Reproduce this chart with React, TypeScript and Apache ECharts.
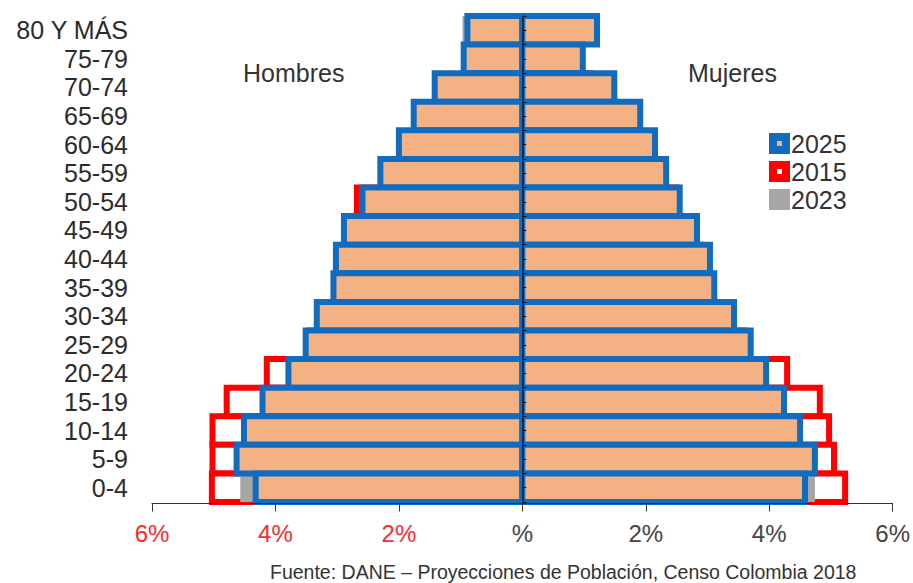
import React, { useEffect, useRef } from "react";
import * as echarts from "echarts";

const categories = ["80 Y MÁS", "75-79", "70-74", "65-69", "60-64", "55-59", "50-54", "45-49", "40-44", "35-39", "30-34", "25-29", "20-24", "15-19", "10-14", "5-9", "0-4"];

const men2025 = [0.89, 0.95, 1.42, 1.76, 2.0, 2.3, 2.59, 2.89, 3.02, 3.06, 3.33, 3.51, 3.79, 4.21, 4.51, 4.63, 4.32];
const women2025 = [1.21, 0.98, 1.49, 1.91, 2.15, 2.33, 2.55, 2.83, 3.04, 3.11, 3.43, 3.7, 3.95, 4.24, 4.5, 4.74, 4.58];

const men2015 = [0.6, 0.6, 0.9, 1.2, 1.6, 2.0, 2.68, 2.8, 2.8, 3.0, 3.25, 3.45, 4.14, 4.79, 5.02, 5.02, 5.03];
const women2015 = [0.8, 0.8, 1.1, 1.5, 1.9, 2.2, 2.5, 2.7, 2.9, 3.05, 3.35, 3.6, 4.29, 4.82, 4.97, 5.05, 5.23];

const men2023 = [0.97, 0.85, 1.3, 1.65, 1.95, 2.25, 2.55, 2.8, 3.0, 3.05, 3.3, 3.5, 3.75, 4.15, 4.45, 4.6, 4.57];
const women2023 = [1.15, 0.95, 1.4, 1.8, 2.05, 2.3, 2.5, 2.8, 3.0, 3.1, 3.4, 3.65, 3.9, 4.2, 4.45, 4.7, 4.74];

const FONT = "Liberation Sans, Arial, sans-serif";
const BLUE = "#116cc0";
const PEACH = "#f4b183";
const RED = "#ff0000";
const GRAY = "#a6a6a6";

export default function App() {
  const ref = useRef<HTMLDivElement>(null);

  useEffect(() => {
    if (!ref.current) return;
    const chart = echarts.init(ref.current, null, { renderer: "svg" });

    const pyramid = (name: string, men: number[], women: number[], fill: string, stroke: string | null, lw: number) => ({
      type: "custom",
      name,
      xAxisIndex: 0,
      yAxisIndex: 0,
      silent: true,
      itemStyle: { color: stroke || fill },
      encode: { x: 0, y: 1 },
      data: [...men.map((v, i) => [-v, i]), ...women.map((v, i) => [v, i])],
      renderItem: (params: any, api: any) => {
        const v = api.value(0);
        const c = api.value(1);
        const p0 = api.coord([0, c]);
        const p1 = api.coord([v, c]);
        const h = api.size([0, 1])[1];
        return {
          type: "rect",
          shape: {
            x: Math.min(p0[0], p1[0]),
            y: p0[1] - h / 2,
            width: Math.abs(p1[0] - p0[0]),
            height: h,
          },
          style: stroke
            ? { fill, stroke, lineWidth: lw }
            : { fill, stroke: "none", lineWidth: 0 },
        };
      },
    });

    chart.setOption({
      animation: false,
      textStyle: { fontFamily: FONT },
      grid: { left: 152, right: 20, top: 16, bottom: 583 - 502 },
      legend: {
        orient: "vertical",
        left: 769,
        top: 131,
        padding: 0,
        itemGap: 3,
        icon: "rect",
        itemWidth: 13,
        itemHeight: 13,
        selectedMode: false,
        textStyle: { fontSize: 25, color: "#333", fontFamily: FONT },
        data: [
          { name: "2025", icon: "rect", itemStyle: { color: PEACH, borderColor: BLUE, borderWidth: 8 } },
          { name: "2015", icon: "rect", itemStyle: { color: "#ffffff", borderColor: RED, borderWidth: 8 } },
          { name: "2023", icon: "rect", itemStyle: { color: GRAY, borderColor: GRAY, borderWidth: 8 } },
        ],
      },
      xAxis: [
        {
          type: "value",
          min: -6,
          max: 6,
          interval: 2,
          offset: 1.5,
          z: 10,
          axisLine: { show: true, onZero: false, lineStyle: { color: "#333", width: 1 } },
          axisTick: { show: true, length: 8, lineStyle: { color: "#333" } },
          splitLine: { show: false },
          axisLabel: {
            fontSize: 24,
            margin: 18,
            fontFamily: FONT,
            formatter: (v: number) => (v === 0 ? "%" : Math.abs(v) + "%"),
            color: (v: any) => (Number(v) < 0 ? "#ff2a2a" : "#444444"),
          },
        },
      ],
      yAxis: [
        {
          type: "category",
          data: categories,
          inverse: true,
          position: "left",
          axisLine: { show: false, onZero: false },
          axisTick: { show: false },
          axisLabel: { interval: 0, fontSize: 25, color: "#2b2b2b", margin: 24, fontFamily: FONT },
        },
        {
          type: "category",
          data: categories,
          inverse: true,
          position: "left",
          z: 10,
          axisLine: { show: true, onZero: true, onZeroAxisIndex: 0, lineStyle: { color: "#0b1f3a", width: 1.5 } },
          axisTick: { show: true, interval: 0, inside: true, length: 4, lineStyle: { color: "#111" } },
          axisLabel: { show: false },
        },
        {
          type: "category",
          data: categories,
          inverse: true,
          position: "left",
          z: 10,
          axisLine: { show: false, onZero: true, onZeroAxisIndex: 0 },
          axisTick: { show: true, interval: 0, inside: true, alignWithLabel: true, length: 4, lineStyle: { color: "#111" } },
          axisLabel: { show: false },
        },
      ],
      series: [
        pyramid("2015", men2015, women2015, "#ffffff", RED, 6),
        pyramid("2023", men2023, women2023, GRAY, null, 0),
        pyramid("2025", men2025, women2025, PEACH, BLUE, 6),
      ],
      graphic: [
        {
          type: "text",
          left: 243,
          top: 60,
          style: { text: "Hombres", fontSize: 25, fill: "#333", fontFamily: FONT },
        },
        {
          type: "text",
          left: 688,
          top: 60,
          style: { text: "Mujeres", fontSize: 25, fill: "#333", fontFamily: FONT },
        },
        {
          type: "text",
          left: 270,
          top: 562,
          style: {
            text: "Fuente: DANE – Proyecciones de Población, Censo Colombia 2018",
            fontSize: 19.5,
            fill: "#333",
            fontFamily: FONT,
          },
        },
      ],
    });

    return () => chart.dispose();
  }, []);

  return (
    <div
      ref={ref}
      style={{ position: "fixed", left: 0, top: 0, width: 913, height: 583, background: "#fff" }}
    />
  );
}
